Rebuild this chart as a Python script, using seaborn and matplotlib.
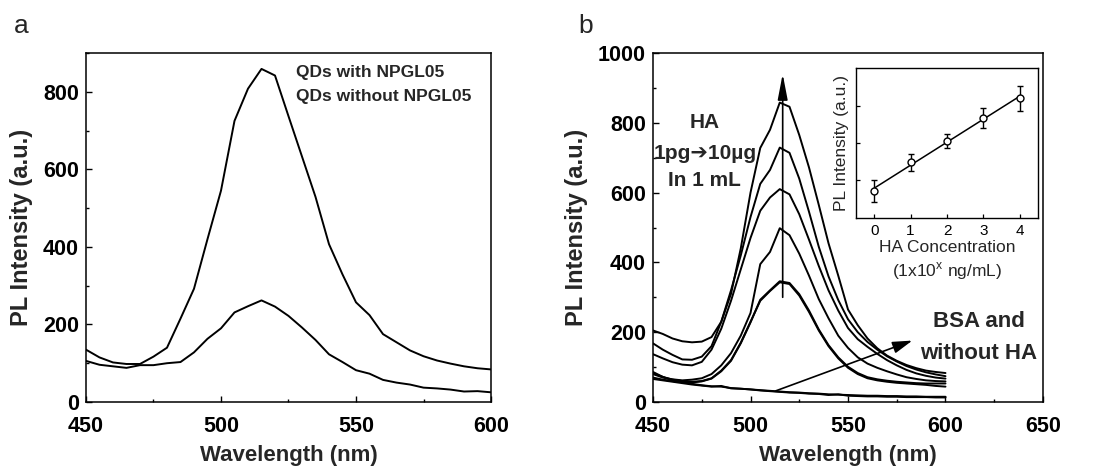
import numpy as np
import pandas as pd
import matplotlib
matplotlib.use("Agg")
import matplotlib.pyplot as plt
from matplotlib.ticker import MultipleLocator
import seaborn as sns

# ---------------- data ----------------
wavelength = list(range(450, 601, 5))

# panel a
qd_with = [135, 115, 102, 98, 98, 117, 140, 215, 292, 420, 545, 725, 808, 859, 842,
           737, 633, 529, 407, 329, 257, 224, 175, 154, 133, 118, 107, 99, 92, 87, 84]
qd_without = [106, 96, 92, 88, 95, 95, 100, 103, 128, 163, 190, 231, 247, 262, 246,
              222, 192, 160, 123, 103, 82, 73, 57, 50, 45, 37, 35, 32, 27, 28, 25]

# panel b : HA series (high -> low)
ha_a = [205, 195, 182, 174, 171, 173, 186, 230, 310, 440, 600, 728, 780, 858, 846,
        765, 672, 565, 455, 362, 265, 220, 182, 154, 133, 118, 106, 97, 90, 86, 83]
ha_b = [168, 150, 135, 122, 121, 130, 160, 230, 320, 420, 530, 625, 665, 729, 714,
        640, 545, 445, 360, 292, 237, 200, 172, 150, 131, 116, 103, 93, 85, 79, 74]
ha_c = [137, 125, 114, 107, 105, 115, 150, 210, 290, 380, 470, 548, 586, 610, 595,
        538, 465, 390, 320, 262, 212, 180, 158, 138, 120, 105, 92, 82, 75, 70, 67]
ha_d = [80, 70, 65, 62, 64, 68, 80, 105, 140, 190, 255, 395, 430, 498, 478,
        425, 362, 295, 240, 190, 155, 128, 110, 98, 88, 79, 71, 66, 62, 60, 59]
ha_e = [86, 72, 64, 60, 58, 60, 68, 90, 120, 170, 230, 290, 318, 343, 338,
        305, 258, 205, 160, 125, 98, 80, 68, 62, 58, 55, 53, 51, 49, 46, 44]
ha_f = [70, 64, 60, 57, 56, 59, 67, 88, 118, 168, 228, 293, 320, 346, 341,
        309, 262, 208, 163, 128, 101, 83, 71, 65, 61, 58, 56, 54, 53, 53, 53]
bsa = [82, 72, 62, 57, 52, 48, 45, 44, 40, 38, 36, 34, 32, 30, 28,
       27, 25, 24, 22, 21, 20, 19, 18, 18, 17, 17, 16, 16, 15, 15, 15]
no_ha = [66, 62, 58, 54, 50, 47, 44, 46, 39, 38, 36, 33, 31, 29, 27,
         26, 24, 23, 20, 22, 18, 17, 16, 16, 15, 15, 14, 14, 14, 13, 13]

# inset
conc = [0, 1, 2, 3, 4]
inset_int = [0.72, 1.48, 2.05, 2.67, 3.19]
inset_err = [0.29, 0.23, 0.19, 0.27, 0.34]

# ---------------- style ----------------
sns.set_theme(style="ticks")
plt.rcParams["font.family"] = ["Liberation Sans", "DejaVu Sans"]
plt.rcParams["axes.linewidth"] = 1.1
plt.rcParams["xtick.direction"] = "in"
plt.rcParams["ytick.direction"] = "in"
plt.rcParams["axes.edgecolor"] = "black"
plt.rcParams["xtick.color"] = "black"
plt.rcParams["ytick.color"] = "black"

LW = 1.4
fig = plt.figure(figsize=(11.18, 4.70), dpi=100)
axa = fig.add_axes([0.0769, 0.1447, 0.3623, 0.7425])
axb = fig.add_axes([0.5841, 0.1447, 0.3488, 0.7425])
axi = fig.add_axes([0.7657, 0.5362, 0.1627, 0.3191])


def style_main(ax):
    for s in ax.spines.values():
        s.set_linewidth(1.1)
        s.set_color("black")
    ax.tick_params(which="major", length=4, width=1.0, labelsize=15.5)
    ax.tick_params(axis="x", which="major", pad=10)
    ax.tick_params(axis="y", which="major", pad=5)
    ax.tick_params(which="minor", length=2.5, width=1.0)
    for lab in ax.get_xticklabels() + ax.get_yticklabels():
        lab.set_fontweight("bold")
    ax.set_xlabel("Wavelength (nm)", fontsize=16, fontweight="bold", labelpad=6)
    ax.set_ylabel("PL Intensity (a.u.)", fontsize=17, fontweight="bold", labelpad=7)


# ---------------- panel a ----------------
dfa = pd.DataFrame({"wl": wavelength * 2,
                    "val": qd_with + qd_without,
                    "series": ["QDs with NPGL05"] * len(wavelength) + ["QDs without NPGL05"] * len(wavelength)})
sns.lineplot(data=dfa, x="wl", y="val", units="series", estimator=None,
             color="black", lw=LW, ax=axa)
axa.set_xlim(450, 600)
axa.set_ylim(0, 900)
axa.xaxis.set_major_locator(MultipleLocator(50))
axa.xaxis.set_minor_locator(MultipleLocator(25))
axa.yaxis.set_major_locator(MultipleLocator(200))
axa.yaxis.set_minor_locator(MultipleLocator(100))
style_main(axa)
axa.text(527.8, 851, "QDs with NPGL05", fontsize=12.5, fontweight="bold", va="center", ha="left")
axa.text(527.8, 787, "QDs without NPGL05", fontsize=12.5, fontweight="bold", va="center", ha="left")
fig.text(0.012, 0.945, "a", fontsize=19, va="center", ha="left")

# ---------------- panel b ----------------
series_b = [ha_a, ha_b, ha_c, ha_d, ha_e, ha_f, bsa, no_ha]
names_b = ["HA1", "HA2", "HA3", "HA4", "HA5", "HA6", "BSA", "noHA"]
dfb = pd.DataFrame({"wl": wavelength * len(series_b),
                    "val": sum(series_b, []),
                    "series": sum([[n] * len(wavelength) for n in names_b], [])})
sns.lineplot(data=dfb, x="wl", y="val", units="series", estimator=None,
             color="black", lw=LW, ax=axb)
axb.set_xlim(450, 650)
axb.set_ylim(0, 1000)
axb.xaxis.set_major_locator(MultipleLocator(50))
axb.xaxis.set_minor_locator(MultipleLocator(25))
axb.yaxis.set_major_locator(MultipleLocator(200))
axb.yaxis.set_minor_locator(MultipleLocator(100))
style_main(axb)

# arrows
axb.annotate("", xy=(516.5, 940), xytext=(516.5, 300),
             arrowprops=dict(arrowstyle="-|>,head_length=1.3,head_width=0.25",
                             color="black", lw=1.2, shrinkA=0, shrinkB=0))
axb.annotate("", xy=(583, 176), xytext=(513, 32),
             arrowprops=dict(arrowstyle="-|>,head_length=1.0,head_width=0.3",
                             color="black", lw=1.2, shrinkA=0, shrinkB=0))
axb.text(476.5, 800, "HA", fontsize=15, fontweight="bold", ha="center", va="center")
axb.text(476.5, 713, "1pg\u279410µg", fontsize=15, fontweight="bold", ha="center", va="center",
         family=["Liberation Sans", "DejaVu Sans"])
axb.text(476.5, 636, "In 1 mL", fontsize=15, fontweight="bold", ha="center", va="center")
axb.text(617, 230, "BSA and", fontsize=16, fontweight="bold", ha="center", va="center")
axb.text(617, 139, "without HA", fontsize=16, fontweight="bold", ha="center", va="center")
fig.text(0.517, 0.945, "b", fontsize=19, va="center", ha="left")

# ---------------- inset ----------------
slope, intercept = np.polyfit(conc, inset_int, 1)
fit_x = [conc[0], conc[-1]]
dff = pd.DataFrame({"x": fit_x, "y": [slope * v + intercept for v in fit_x]})
sns.lineplot(data=dff, x="x", y="y", color="black", lw=1.1, ax=axi)
axi.errorbar(conc, inset_int, yerr=inset_err, fmt="o", mfc="white", mec="black",
             ms=5, mew=1.0, ecolor="black", elinewidth=1.0, capsize=2, zorder=3)
axi.set_xlim(-0.5, 4.5)
axi.set_ylim(0, 4)
axi.set_xticks(conc)
axi.set_yticks([1, 2, 3])
axi.set_yticklabels([])
axi.tick_params(which="major", length=3, width=0.9, labelsize=11, pad=4)
for s in axi.spines.values():
    s.set_linewidth(1.0)
    s.set_color("black")
axi.set_xlabel("HA Concentration\n(1x10$^{\\mathregular{x}}$ ng/mL)", fontsize=12.5, labelpad=2,
               linespacing=1.3)
axi.set_ylabel("PL Intensity (a.u.)", fontsize=12.5, labelpad=1)

fig.savefig("out.png", dpi=100)
